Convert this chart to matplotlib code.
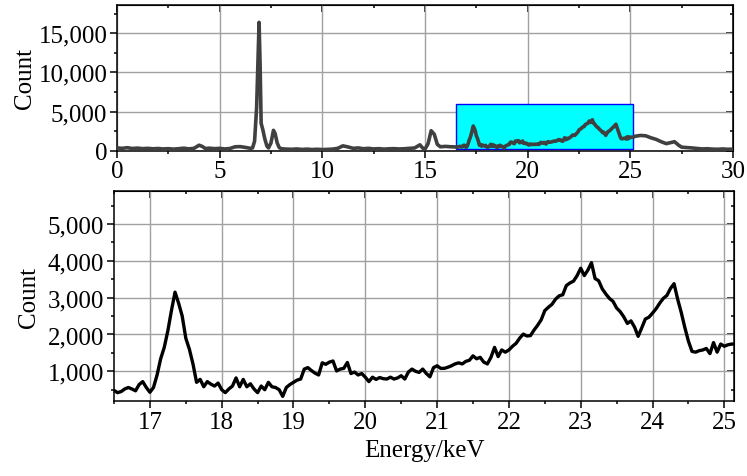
import numpy as np
import matplotlib
matplotlib.use("Agg")
import matplotlib.pyplot as plt
from matplotlib.patches import Rectangle
from matplotlib.ticker import MultipleLocator, StrMethodFormatter

plt.rcParams["font.family"] = ["Liberation Serif", "DejaVu Serif"]
plt.rcParams["font.size"] = 18

# spectrum below the zoom window (keV, counts)
energy_low = [0.0, 0.25, 0.5, 0.75, 1.0, 1.25, 1.5, 1.75, 2.0, 2.25, 2.5, 2.75,
              3.0, 3.25, 3.5, 3.75, 4.0, 4.15, 4.3, 4.5, 4.75, 5.0, 5.25, 5.5,
              5.75, 6.0, 6.25, 6.5, 6.6, 6.7, 6.8, 6.87, 6.92, 6.97, 7.02, 7.1,
              7.2, 7.3, 7.38, 7.5, 7.62, 7.7, 7.8, 7.9, 8.0, 8.25, 8.5, 8.75,
              9.0, 9.25, 9.5, 9.75, 10.0, 10.25, 10.5, 10.75, 11.0, 11.25, 11.5,
              11.75, 12.0, 12.25, 12.5, 12.75, 13.0, 13.25, 13.5, 13.75, 14.0,
              14.25, 14.5, 14.75, 14.9, 15.0, 15.15, 15.3, 15.45, 15.6, 15.75,
              16.0, 16.25]
counts_low = [350, 300, 380, 280, 330, 260, 300, 240, 280, 220, 260, 200,
              250, 320, 230, 300, 700, 550, 280, 320, 260, 300, 220, 280,
              500, 520, 420, 300, 350, 1200, 5500, 12000, 16400, 11000, 3500, 2700,
              1500, 600, 350, 1000, 2600, 2200, 1000, 400, 250, 200, 180, 220,
              160, 200, 150, 180, 140, 170, 200, 300, 620, 480, 300,
              350, 250, 300, 220, 260, 200, 240, 260, 220, 250,
              300, 350, 750, 300, 200, 900, 2550, 2100, 800, 500,
              550, 500]

# zoom window, 0.05 keV channels starting at 16.50 keV
zoom_start = 16.5
zoom_step = 0.05
counts_zoom = [480, 420, 450, 520, 560, 520, 470, 640, 720, 560,
               430, 560, 900, 1340, 1650, 2100, 2650, 3150, 2850, 2500,
               1900, 1600, 1200, 700, 780, 580, 720, 650, 600, 680,
               500, 420, 520, 600, 820, 580, 780, 580, 660, 520,
               420, 600, 500, 700, 580, 560, 500, 320, 560, 640,
               700, 760, 790, 1060, 1100, 1020, 950, 900, 1230, 1190,
               1250, 1280, 1010, 1060, 1080, 1240, 940, 980, 900, 940,
               840, 720, 840, 780, 830, 800, 790, 840, 790, 820,
               880, 790, 980, 1060, 1000, 970, 1060, 940, 850, 1100,
               1150, 1080, 1080, 1110, 1150, 1200, 1230, 1200, 1270, 1300,
               1420, 1340, 1380, 1250, 1200, 1380, 1650, 1400, 1580, 1520,
               1580, 1680, 1760, 1900, 2010, 1960, 1970, 2120, 2250, 2400,
               2650, 2740, 2820, 2960, 3050, 3080, 3330, 3400, 3450, 3600,
               3800, 3600, 3750, 3950, 3520, 3460, 3240, 3100, 2980, 2900,
               2720, 2620, 2480, 2300, 2370, 2200, 1950, 2180, 2420, 2470,
               2580, 2700, 2850, 2980, 3060, 3250, 3380, 2960, 2600, 2190,
               1820, 1540, 1520, 1560, 1580, 1620, 1480, 1780, 1520, 1740,
               1680, 1720, 1740, 1740]

# spectrum above the zoom window
energy_high = [25.25, 25.5, 25.75, 26.0, 26.25, 26.5, 26.75, 27.0, 27.15,
               27.35, 27.5, 27.75, 28.0, 28.25, 28.5, 28.75, 29.0, 29.25,
               29.5, 29.75, 30.0]
counts_high = [1850, 1950, 1900, 1650, 1450, 1150, 900, 1050, 1150,
               700, 450, 400, 350, 280, 220, 250, 200, 180,
               220, 180, 200]

zoom_xlim = (16.5, 25.135)
zoom_ylim = (185, 5905)

energy_zoom = zoom_start + zoom_step * np.arange(len(counts_zoom))
energy_all = np.concatenate([energy_low, energy_zoom, energy_high])
counts_all = np.concatenate([counts_low, counts_zoom, counts_high])

fig = plt.figure(figsize=(7.47, 4.77), dpi=100)
ax1 = fig.add_axes([0.1566, 0.682, 0.8247, 0.306])
ax2 = fig.add_axes([0.1526, 0.1566, 0.83, 0.4414])

fmt = StrMethodFormatter("{x:,.0f}")


def style_axes(ax, xmaj, xmin, ymaj, ymin):
    for s in ax.spines.values():
        s.set_linewidth(1.1)
    ax.xaxis.set_major_locator(MultipleLocator(xmaj))
    ax.xaxis.set_minor_locator(MultipleLocator(xmin))
    ax.yaxis.set_major_locator(MultipleLocator(ymaj))
    ax.yaxis.set_minor_locator(MultipleLocator(ymin))
    ax.yaxis.set_major_formatter(fmt)
    ax.tick_params(which="both", direction="out", top=False, right=False, width=1.1)
    ax.tick_params(which="major", length=5, pad=2)
    ax.tick_params(which="minor", length=2.5)
    ax.grid(True, which="major", color="#a0a0a0", linewidth=1.0)
    # inward ticks on top and right spines
    top = ax.secondary_xaxis("top")
    top.xaxis.set_major_locator(MultipleLocator(xmaj))
    top.xaxis.set_minor_locator(MultipleLocator(xmin))
    top.tick_params(which="both", direction="in", labeltop=False, width=1.1)
    top.tick_params(which="major", length=5)
    top.tick_params(which="minor", length=2.5)
    right = ax.secondary_yaxis("right")
    right.yaxis.set_major_locator(MultipleLocator(ymaj))
    right.yaxis.set_minor_locator(MultipleLocator(ymin))
    right.tick_params(which="both", direction="in", labelright=False, width=1.1)
    right.tick_params(which="major", length=5)
    right.tick_params(which="minor", length=2.5)


# overview
ax1.plot(energy_all, counts_all, color="#404040", linewidth=2.6, zorder=3)
ax1.add_patch(Rectangle((zoom_xlim[0], zoom_ylim[0]),
                        zoom_xlim[1] - zoom_xlim[0], zoom_ylim[1] - zoom_ylim[0],
                        facecolor="#00ffff", edgecolor="#0000ff", linewidth=1.0, zorder=1.6))
ax1.set_xlim(0, 30)
ax1.set_ylim(0, 18650)
style_axes(ax1, 5, 2.5, 5000, 2500)
ax1.set_ylabel("Count", labelpad=2)

# zoom
ax2.plot(energy_zoom, counts_zoom, color="black", linewidth=2.4, zorder=3)
ax2.set_xlim(*zoom_xlim)
ax2.set_ylim(*zoom_ylim)
style_axes(ax2, 1, 0.5, 1000, 500)
ax2.set_xlabel("Energy/keV", labelpad=4)
ax2.set_ylabel("Count", labelpad=6)

fig.savefig("out.png", dpi=100)
